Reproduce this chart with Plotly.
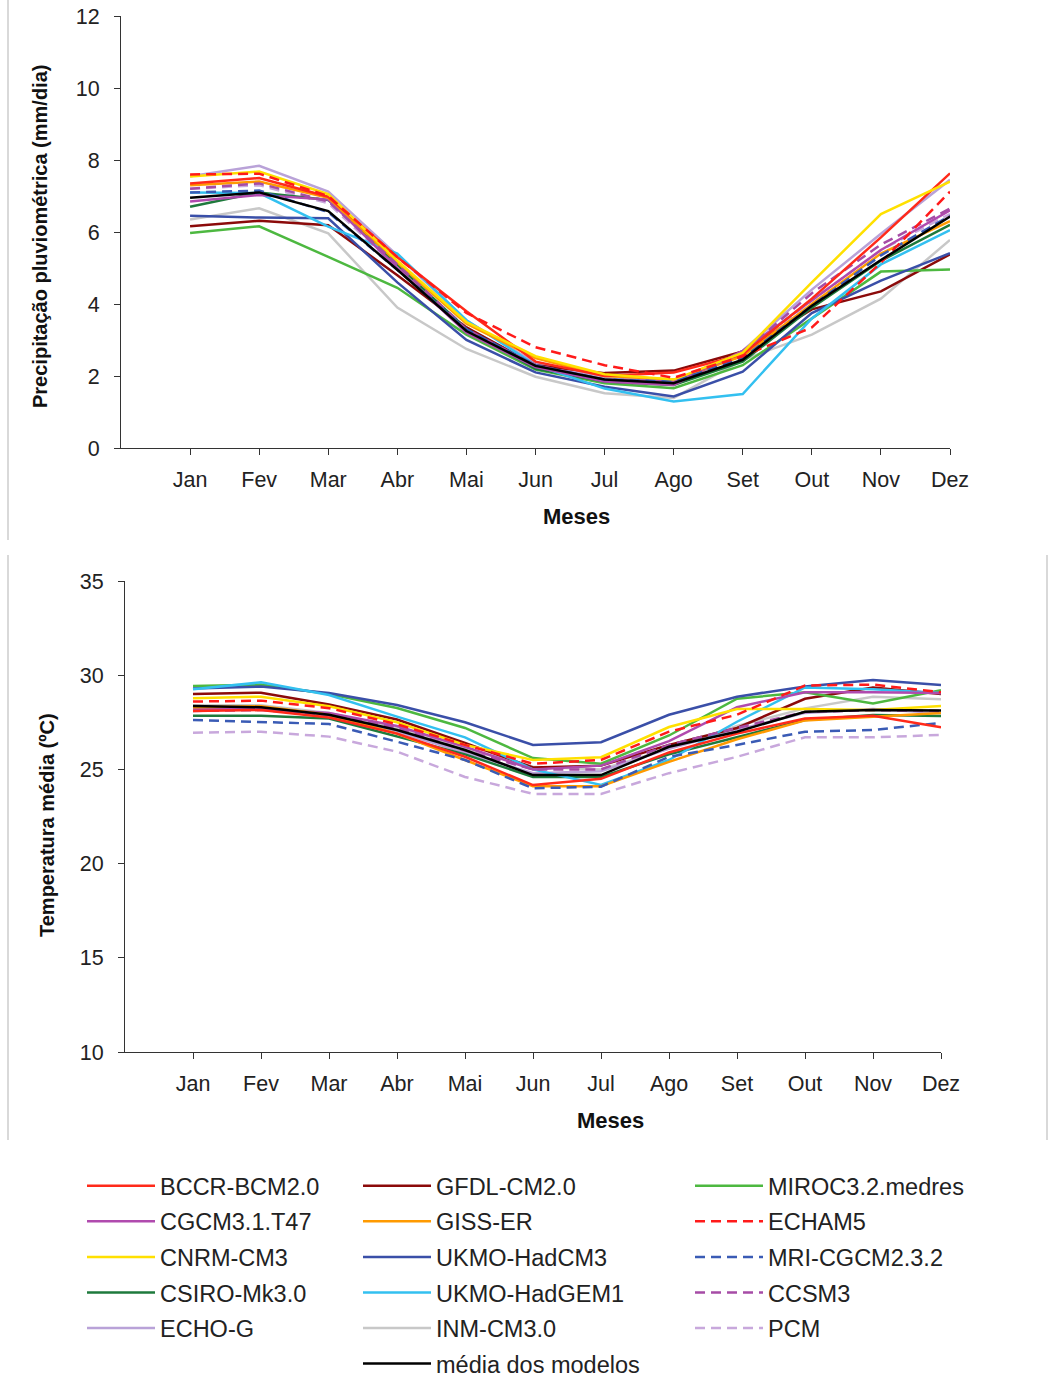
import plotly.graph_objects as go

months = ["Jan", "Fev", "Mar", "Abr", "Mai", "Jun", "Jul", "Ago", "Set", "Out", "Nov", "Dez"]

models = ["BCCR-BCM2.0", "CGCM3.1.T47", "CNRM-CM3", "CSIRO-Mk3.0", "ECHO-G",
          "GFDL-CM2.0", "GISS-ER", "UKMO-HadCM3", "UKMO-HadGEM1", "INM-CM3.0", "média dos modelos",
          "MIROC3.2.medres", "ECHAM5", "MRI-CGCM2.3.2", "CCSM3", "PCM"]

# Precipitação pluviométrica (mm/dia)
prec_bccr   = [7.35, 7.50, 6.98, 5.30, 3.80, 2.40, 2.00, 2.10, 2.60, 4.15, 5.85, 7.63]
prec_cgcm3  = [6.85, 7.03, 6.90, 5.00, 3.20, 2.25, 1.85, 1.75, 2.70, 4.10, 5.50, 6.60]
prec_cnrm   = [7.54, 7.68, 7.05, 5.20, 3.50, 2.55, 2.05, 1.90, 2.65, 4.60, 6.50, 7.40]
prec_csiro  = [6.70, 7.10, 6.89, 5.10, 3.30, 2.20, 1.85, 1.75, 2.40, 3.90, 5.20, 6.20]
prec_echog  = [7.55, 7.84, 7.12, 5.35, 3.55, 2.35, 1.95, 1.85, 2.70, 4.40, 5.95, 7.45]
prec_gfdl   = [6.16, 6.31, 6.19, 4.80, 3.35, 2.30, 2.08, 2.15, 2.68, 3.85, 4.35, 5.38]
prec_giss   = [7.30, 7.40, 6.95, 5.15, 3.45, 2.50, 2.00, 1.90, 2.55, 4.00, 5.40, 6.30]
prec_hadcm3 = [6.45, 6.40, 6.38, 4.60, 3.00, 2.10, 1.70, 1.43, 2.12, 3.75, 4.65, 5.41]
prec_hadgem = [7.10, 7.08, 6.15, 5.40, 3.55, 2.30, 1.65, 1.29, 1.50, 3.60, 5.10, 6.05]
prec_inm    = [6.35, 6.66, 5.96, 3.90, 2.75, 1.98, 1.52, 1.39, 2.45, 3.15, 4.15, 5.78]
prec_media  = [6.95, 7.10, 6.58, 4.95, 3.25, 2.28, 1.90, 1.80, 2.45, 3.95, 5.22, 6.43]
prec_miroc  = [5.97, 6.16, 5.31, 4.45, 3.15, 2.18, 1.80, 1.66, 2.30, 3.60, 4.90, 4.96]
prec_echam5 = [7.60, 7.62, 7.00, 5.30, 3.75, 2.80, 2.30, 1.95, 2.55, 3.35, 5.15, 7.12]
prec_mri    = [7.10, 7.15, 6.55, 4.95, 3.30, 2.30, 1.90, 1.85, 2.50, 3.95, 5.35, 6.45]
prec_ccsm3  = [7.20, 7.35, 6.85, 5.10, 3.30, 2.30, 1.90, 1.85, 2.65, 4.30, 5.65, 6.65]
prec_pcm    = [7.20, 7.30, 6.80, 5.00, 3.35, 2.25, 1.88, 1.80, 2.60, 4.10, 5.50, 6.50]

# Temperatura média (ºC)
temp_bccr   = [28.10, 28.15, 27.75, 26.90, 25.67, 24.17, 24.50, 25.90, 26.90, 27.70, 27.85, 27.23]
temp_cgcm3  = [28.20, 28.20, 28.00, 27.30, 26.20, 25.00, 25.20, 26.50, 28.30, 29.10, 29.10, 29.05]
temp_cnrm   = [28.77, 28.86, 28.35, 27.50, 26.30, 25.50, 25.65, 27.25, 28.20, 28.20, 28.15, 28.37]
temp_csiro  = [27.85, 27.85, 27.70, 26.74, 25.80, 24.60, 24.60, 25.80, 26.70, 27.62, 27.89, 27.83]
temp_echog  = [28.19, 28.20, 27.85, 27.00, 25.90, 24.80, 24.90, 26.10, 27.10, 28.00, 28.20, 28.00]
temp_gfdl   = [29.00, 29.07, 28.45, 27.65, 26.40, 25.10, 25.20, 26.30, 27.20, 28.75, 29.35, 29.00]
temp_giss   = [28.30, 28.35, 27.90, 26.90, 25.50, 24.10, 24.10, 25.40, 26.60, 27.60, 27.80, 28.00]
temp_hadcm3 = [29.30, 29.40, 29.05, 28.42, 27.50, 26.30, 26.44, 27.90, 28.86, 29.40, 29.75, 29.48]
temp_hadgem = [29.25, 29.62, 28.95, 27.80, 26.70, 25.00, 24.17, 25.50, 27.53, 29.35, 29.25, 29.05]
temp_inm    = [28.40, 28.40, 28.00, 27.20, 26.10, 25.14, 25.00, 26.10, 27.30, 28.24, 28.86, 28.72]
temp_media  = [28.37, 28.30, 27.90, 27.09, 26.03, 24.70, 24.70, 26.20, 27.00, 28.06, 28.15, 28.12]
temp_miroc  = [29.43, 29.50, 29.00, 28.26, 27.20, 25.60, 25.30, 26.80, 28.75, 29.10, 28.50, 29.20]
temp_echam5 = [28.60, 28.65, 28.25, 27.40, 26.30, 25.30, 25.50, 27.00, 27.90, 29.45, 29.50, 29.10]
temp_mri    = [27.62, 27.53, 27.41, 26.47, 25.50, 24.00, 24.08, 25.67, 26.30, 27.00, 27.09, 27.47]
temp_ccsm3  = [28.10, 28.15, 27.90, 27.20, 26.00, 25.00, 25.00, 26.30, 27.20, 28.05, 28.15, 28.10]
temp_pcm    = [26.95, 27.00, 26.74, 25.94, 24.60, 23.70, 23.70, 24.80, 25.67, 26.70, 26.70, 26.83]

prec = [prec_bccr, prec_cgcm3, prec_cnrm, prec_csiro, prec_echog, prec_gfdl, prec_giss, prec_hadcm3,
        prec_hadgem, prec_inm, prec_media, prec_miroc, prec_echam5, prec_mri, prec_ccsm3, prec_pcm]
temp = [temp_bccr, temp_cgcm3, temp_cnrm, temp_csiro, temp_echog, temp_gfdl, temp_giss, temp_hadcm3,
        temp_hadgem, temp_inm, temp_media, temp_miroc, temp_echam5, temp_mri, temp_ccsm3, temp_pcm]

colors = ["#FF2A1A", "#B04AAE", "#FFE000", "#1E7A3C", "#B9A2D8",
          "#8B0A0A", "#FF9A00", "#3A4FA8", "#33C0F0", "#C8C8C8", "#000000",
          "#4DB840", "#FF1A1A", "#3A5BB5", "#A64CA6", "#C8A8DC"]
dashes = ["solid"] * 11 + ["solid", "10px,6px", "10px,6px", "10px,6px", "10px,6px"]
legend_ids = ["legend"] * 5 + ["legend2"] * 6 + ["legend3"] * 5

# draw order: mean on top
order = [9, 4, 15, 5, 11, 7, 3, 8, 1, 6, 14, 13, 0, 2, 12, 10]

fig = go.Figure()
for i in order:
    fig.add_trace(go.Scatter(
        x=months, y=prec[i], mode="lines", name=models[i],
        line=dict(color=colors[i], width=2.5, dash=dashes[i]),
        legendgroup=models[i], legend=legend_ids[i], legendrank=i,
        xaxis="x", yaxis="y", showlegend=True))
for i in order:
    fig.add_trace(go.Scatter(
        x=months, y=temp[i], mode="lines", name=models[i],
        line=dict(color=colors[i], width=2.5, dash=dashes[i]),
        legendgroup=models[i], legend=legend_ids[i],
        xaxis="x2", yaxis="y2", showlegend=False))

# body margin is removed by the post script, so page pixels equal figure pixels
OFF = 0
W, H = 1050, 1420
def px_x(p): return (p - OFF) / W
def px_y(p): return 1 - (p - OFF) / H

FONT = "Arial, Liberation Sans, sans-serif"
axis_common = dict(showline=True, linecolor="#333333", linewidth=1, ticks="outside",
                   ticklen=6, tickcolor="#333333", showgrid=False, zeroline=False,
                   automargin=False, ticklabeloverflow="allow",
                   tickfont=dict(family=FONT, size=21.5, color="#222222"))

fig.update_layout(
    width=W, height=H, margin=dict(l=0, r=0, t=0, b=0),
    paper_bgcolor="white", plot_bgcolor="white", template="none",
    xaxis=dict(domain=[px_x(121), px_x(950)], anchor="y", range=[-1, 11],
               ticklabelstandoff=6, **axis_common),
    yaxis=dict(domain=[px_y(448), px_y(16)], anchor="x", range=[0, 12], dtick=2,
               ticklabelstandoff=10, **axis_common),
    xaxis2=dict(domain=[px_x(125), px_x(941)], anchor="y2", range=[-1, 11],
                ticklabelstandoff=6, **axis_common),
    yaxis2=dict(domain=[px_y(1052), px_y(581)], anchor="x2", range=[10, 35], dtick=5,
                ticklabelstandoff=10, **axis_common),
)

legend_common = dict(orientation="v", xanchor="left", yanchor="top", bgcolor="rgba(0,0,0,0)",
                     font=dict(family=FONT, size=23.5, color="#222222"),
                     itemwidth=68, tracegroupgap=2, traceorder="grouped", itemclick=False,
                     itemdoubleclick=False)
fig.update_layout(
    legend=dict(x=px_x(82), y=px_y(1164), **legend_common),
    legend2=dict(x=px_x(358), y=px_y(1164), **legend_common),
    legend3=dict(x=px_x(690), y=px_y(1164), **legend_common),
)

annots = [
    dict(text="<b>Precipitação pluviométrica (mm/dia)</b>", x=px_x(40), y=px_y(237), textangle=-90, size=20),
    dict(text="<b>Meses</b>", x=px_x(576), y=px_y(516), size=22),
    dict(text="<b>Temperatura média (ºC)</b>", x=px_x(47), y=px_y(825), textangle=-90, size=20),
    dict(text="<b>Meses</b>", x=px_x(610), y=px_y(1120), size=22),
]
for a in annots:
    size = a.pop("size")
    fig.add_annotation(xref="paper", yref="paper", showarrow=False, xanchor="center",
                       yanchor="middle", font=dict(family=FONT, size=size, color="#111111"), **a)

frame = dict(type="line", xref="paper", yref="paper", line=dict(color="#CCCCCC", width=1.5))
fig.add_shape(x0=px_x(8), x1=px_x(8), y0=px_y(0), y1=px_y(540), **frame)
fig.add_shape(x0=px_x(8), x1=px_x(8), y0=px_y(555), y1=px_y(1140), **frame)
fig.add_shape(x0=px_x(1047), x1=px_x(1047), y0=px_y(555), y1=px_y(1140), **frame)

fig.write_html("out.html", config={"displayModeBar": False},
               post_script="document.body.style.margin='0px';")
